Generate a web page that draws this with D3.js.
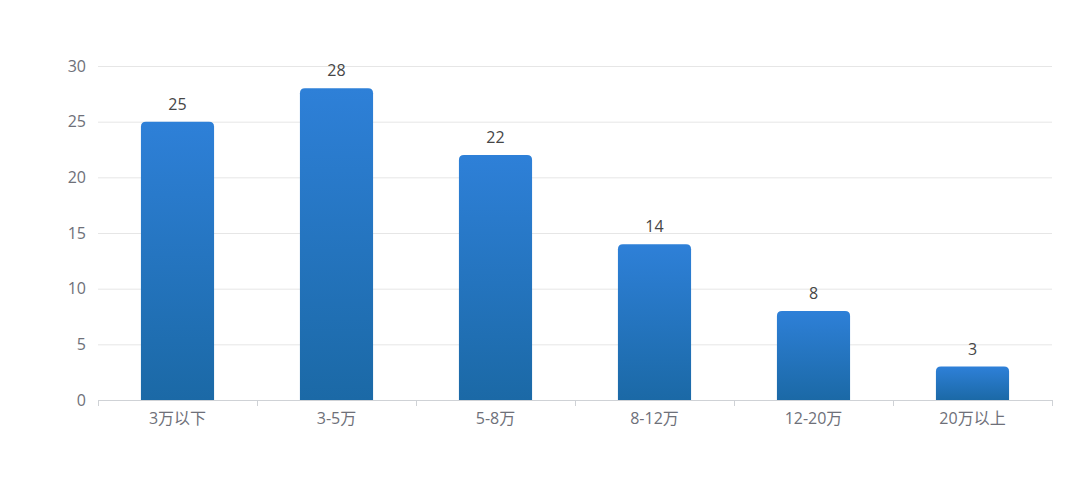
<!DOCTYPE html>
<html><head><meta charset="utf-8">
<script src="https://cdn.jsdelivr.net/npm/d3@7"></script>
<style>body{margin:0;background:#fff;}svg{display:block;font-family:"Open Sans","Noto Sans CJK SC","Noto Sans",sans-serif;}</style>
</head><body>
<svg id="c" width="1080" height="487"></svg>
<script>
const categories = ["3万以下","3-5万","5-8万","8-12万","12-20万","20万以上"];
const values = [25,28,22,14,8,3];
const yTicks = [0,5,10,15,20,25,30];

const svg = d3.select("#c");
const m = {left:98, right:1052, top:66, bottom:400};
const x = d3.scaleBand().domain(categories).range([m.left,m.right]).paddingInner(0).paddingOuter(0);
const y = d3.scaleLinear().domain([0,30]).range([m.bottom,m.top]);

const defs = svg.append("defs");
const g = defs.append("linearGradient").attr("id","bg").attr("x1",0).attr("y1",0).attr("x2",0).attr("y2",1);
g.append("stop").attr("offset","0%").attr("stop-color","#2e80d8");
g.append("stop").attr("offset","100%").attr("stop-color","#1b69a6");

// grid
svg.append("g").selectAll("line").data(yTicks.filter(d=>d>0)).join("line")
  .attr("x1",m.left).attr("x2",m.right).attr("y1",d=>y(d)+0.5).attr("y2",d=>y(d)+0.5)
  .attr("stroke","#e6e6e6").attr("stroke-width",1);

// y labels
svg.append("g").selectAll("text").data(yTicks).join("text")
  .attr("x",m.left-12).attr("y",d=>y(d)).attr("dy","0.35em").attr("text-anchor","end")
  .attr("fill","#6e7079").attr("font-size",16).text(d=>d);

// bars
const bw = x.bandwidth()*0.46;
const r = 5;
function barPath(cx, top, bottom, w){
  const l = cx-w/2, rr = cx+w/2;
  const rad = Math.min(r, (bottom-top));
  return `M${l},${bottom}V${top+rad}Q${l},${top} ${l+rad},${top}H${rr-rad}Q${rr},${top} ${rr},${top+rad}V${bottom}Z`;
}
svg.append("g").selectAll("path").data(categories).join("path")
  .attr("d",(c,i)=>barPath(x(c)+x.bandwidth()/2, y(values[i]), y(0), bw))
  .attr("fill","url(#bg)");

// value labels
svg.append("g").selectAll("text").data(categories).join("text")
  .attr("x",c=>x(c)+x.bandwidth()/2).attr("y",(c,i)=>y(values[i])-12)
  .attr("text-anchor","middle").attr("fill","#464646").attr("font-size",16)
  .text((c,i)=>values[i]);

// x axis
const xa = svg.append("g").attr("transform",`translate(0,${m.bottom})`);
xa.append("line").attr("x1",m.left).attr("x2",m.right).attr("y1",0.5).attr("y2",0.5).attr("stroke","#cfd2d6");
const bounds = categories.map(c=>x(c)).concat([m.right]);
xa.selectAll("line.t").data(bounds).join("line").attr("class","t")
  .attr("x1",d=>Math.round(d)+0.5).attr("x2",d=>Math.round(d)+0.5).attr("y1",0).attr("y2",6).attr("stroke","#cfd2d6");
xa.selectAll("text").data(categories).join("text")
  .attr("x",c=>x(c)+x.bandwidth()/2).attr("y",18).attr("dy","0.35em").attr("text-anchor","middle")
  .attr("fill","#6e7079").attr("font-size",16).text(c=>c);
</script>
</body></html>
